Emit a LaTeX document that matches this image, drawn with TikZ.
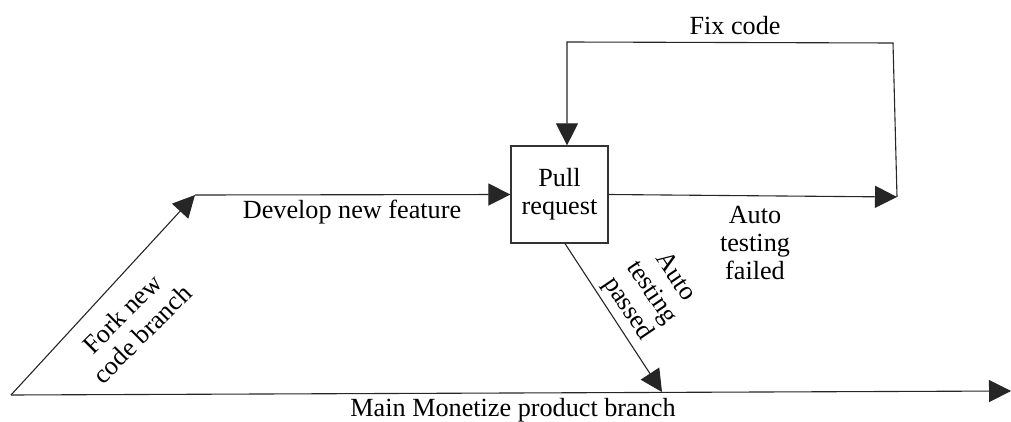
\documentclass[tikz,border=0pt]{standalone}
\usepackage{fontspec}
\setmainfont{Liberation Serif}
\usetikzlibrary{arrows.meta}
\begin{document}
\begin{tikzpicture}[x=0.5pt,y=-0.5pt,
  every node/.style={font=\fontsize{13.1}{14.2}\selectfont, inner sep=0pt},
  flow/.style={draw=black!85, line width=0.55pt},
  arr/.style={flow, -{Triangle[length=11pt,width=11pt]}},
  prbox/.style={draw=black!80, line width=0.6pt, minimum width=48.5pt, minimum height=48.5pt, align=center},
  lbl/.style={align=center}]
  \useasboundingbox (0,0) rectangle (1011,422);

  % branch points and corners
  \coordinate (o)    at (11,395);
  \coordinate (mend) at (1011,391);
  \coordinate (f)    at (195,195);
  \coordinate (fr)   at (897,197);
  \coordinate (tr)   at (893,43);
  \coordinate (tl)   at (567,42);
  \coordinate (merge) at (662,392);

  % pull request step
  \node[prbox] (pr) at (559.5,194.5) {Pull\\request};

  % main product branch
  \draw[arr] (o) -- (mend);
  % fork and feature work
  \draw[arr] (o) -- (f);
  \draw[arr] (f) -- (pr.west);
  % failed testing loops back
  \draw[arr] (pr.east) -- (fr);
  \draw[arr] (fr) -- (tr) -- (tl) -- (tl |- pr.north);
  % passed testing merges into main
  \draw[arr] ([xshift=2.75pt]pr.south) -- (merge);

  % labels
  \node[lbl] (lfix) at (735,26) {Fix code};
  \node[lbl] (ldev) at (352,212) {Develop new feature};
  \node[lbl] (lfail) at (755,243) {Auto\\testing\\failed};
  \node[lbl, rotate=45] (lfork) at (132,324) {Fork new\\code branch};
  \node[lbl, rotate=-56] (lpass) at (651,293) {Auto\\testing\\passed};
  \node[lbl] (lmain) at (513,410) {Main Monetize product branch};
\end{tikzpicture}
\end{document}
